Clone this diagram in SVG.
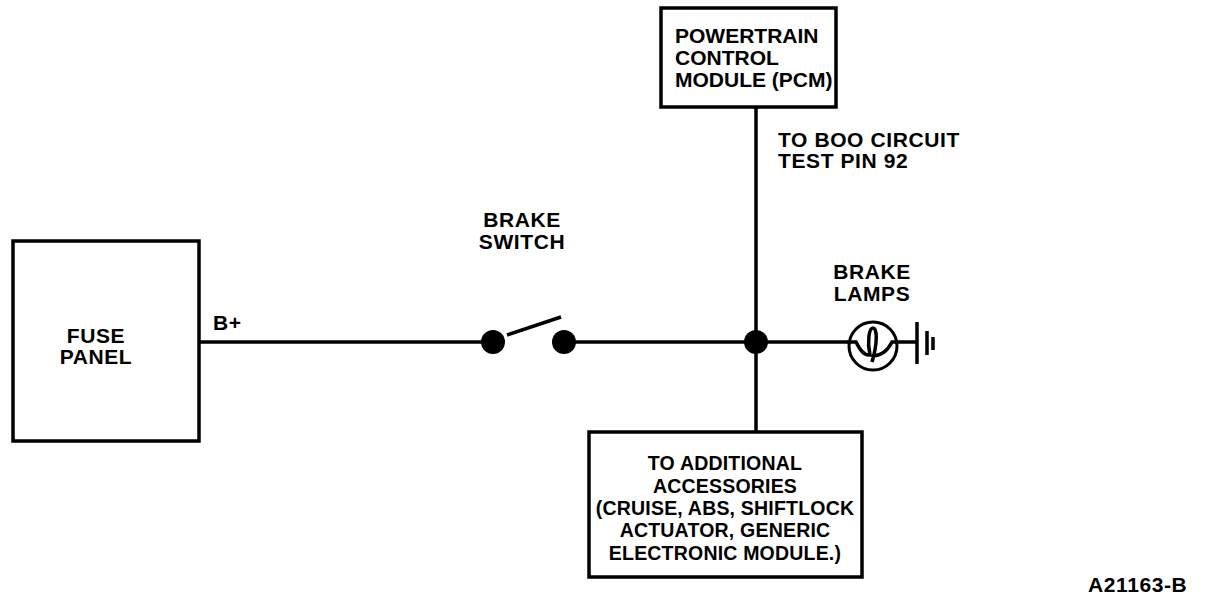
<svg xmlns="http://www.w3.org/2000/svg" width="1216" height="598" viewBox="0 0 1216 598">
<style>
.box{fill:#fff;stroke:#000;stroke-width:3.5}
.w{fill:none;stroke:#000;stroke-width:3.5}
.t{font-family:"Liberation Sans",Arial,sans-serif;font-weight:bold;font-size:21px;letter-spacing:0.6px;fill:#000}
.p{letter-spacing:0}
.s{font-size:19.5px;letter-spacing:0.2px}
.c{text-anchor:middle}
</style>
<rect width="1216" height="598" fill="#fff"/>
<g id="connectors">
<line class="w" x1="199" y1="342" x2="493" y2="342"/>
<line class="w" x1="507" y1="335" x2="561" y2="317"/>
<line class="w" x1="564" y1="342" x2="849" y2="342"/>
<line class="w" x1="756" y1="107" x2="756" y2="432"/>
<circle cx="756" cy="342" r="12" fill="#000"/>
</g>
<g id="fuse-panel">
<rect class="box" x="13" y="241" width="186" height="200"/>
<text class="t c" x="96" y="343">FUSE</text>
<text class="t c" x="96" y="364">PANEL</text>
<text class="t" x="213" y="330">B+</text>
</g>
<g id="brake-switch">
<circle cx="493" cy="342" r="12" fill="#000"/>
<circle cx="564" cy="342" r="12" fill="#000"/>
<text class="t c" x="522" y="227">BRAKE</text>
<text class="t c" x="522" y="249">SWITCH</text>
</g>
<g id="pcm">
<rect class="box" x="661" y="8" width="175" height="99"/>
<text class="t p" x="675" y="43">POWERTRAIN</text>
<text class="t p" x="675" y="65">CONTROL</text>
<text class="t p" x="675" y="87">MODULE (PCM)</text>
<text class="t" x="778" y="147">TO BOO CIRCUIT</text>
<text class="t" x="778" y="168">TEST PIN 92</text>
</g>
<g id="brake-lamps">
<circle cx="873" cy="346" r="24" fill="none" stroke="#000" stroke-width="3"/>
<path class="w" stroke-width="3" d="M847,342 L856,342 C860,350 864,356 870,355 C867,342 869,328 873,328 C877,328 878,342 872,362 M872,356 C882,356 888,350 892,342 L917,342"/>
<line class="w" x1="917" y1="322" x2="917" y2="364"/>
<line class="w" x1="927" y1="331" x2="927" y2="355"/>
<line class="w" x1="933" y1="337" x2="933" y2="350"/>
<text class="t c" x="872" y="279">BRAKE</text>
<text class="t c" x="872" y="301">LAMPS</text>
</g>
<g id="accessories">
<rect class="box" x="589" y="432" width="273" height="145"/>
<text class="t s c" x="725" y="470">TO ADDITIONAL</text>
<text class="t s c" x="725" y="493">ACCESSORIES</text>
<text class="t s c" x="725" y="515">(CRUISE, ABS, SHIFTLOCK</text>
<text class="t s c" x="725" y="537">ACTUATOR, GENERIC</text>
<text class="t s c" x="725" y="560">ELECTRONIC MODULE.)</text>
</g>
<text class="t" x="1088" y="592">A21163-B</text>
</svg>
